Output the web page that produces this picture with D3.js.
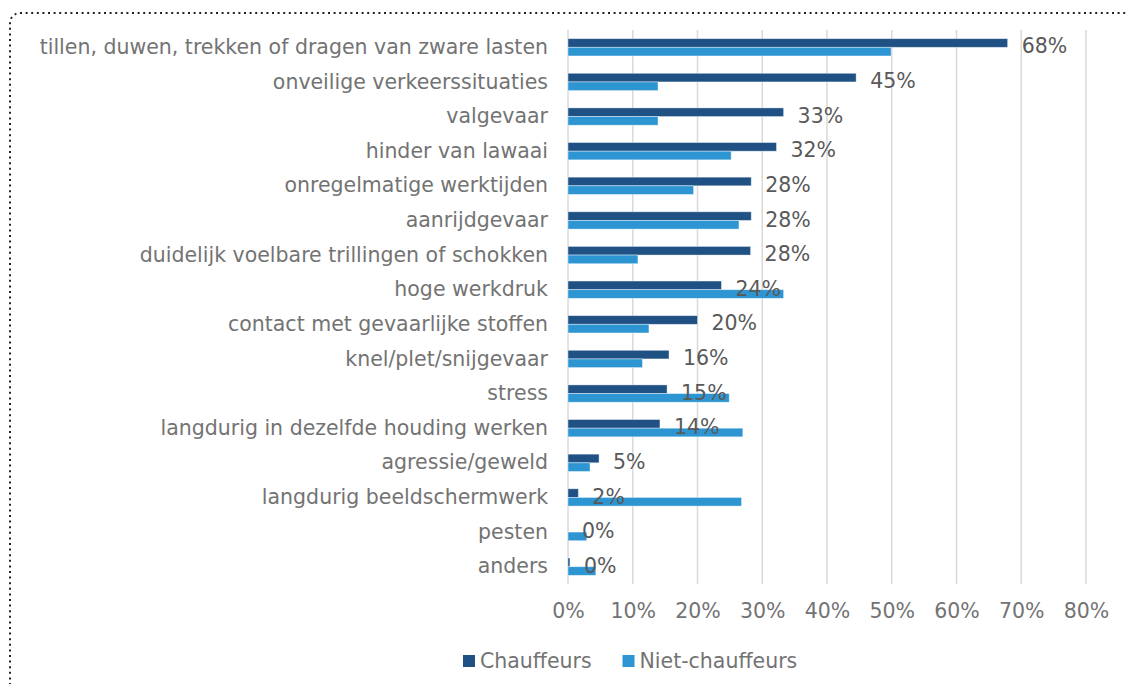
<!DOCTYPE html>
<html>
<head>
<meta charset="utf-8">
<script src="https://cdn.jsdelivr.net/npm/d3@7"></script>
<style>
  body { margin: 0; background: #fff; }
  text { font-family: "DejaVu Sans", sans-serif; }
</style>
</head>
<body>
<div id="chart"></div>
<script>
var categories = [
    "tillen, duwen, trekken of dragen van zware lasten",
    "onveilige verkeerssituaties",
    "valgevaar",
    "hinder van lawaai",
    "onregelmatige werktijden ",
    "aanrijdgevaar",
    "duidelijk voelbare trillingen of schokken",
    "hoge werkdruk",
    "contact met gevaarlijke stoffen",
    "knel/plet/snijgevaar",
    "stress",
    "langdurig in dezelfde houding werken",
    "agressie/geweld",
    "langdurig beeldschermwerk",
    "pesten",
    "anders"
];
var chauffeurs = [67.9, 44.5, 33.3, 32.2, 28.3, 28.3, 28.2, 23.7, 20.0, 15.6, 15.3, 14.2, 4.8, 1.6, 0, 0.3];
var nietChauffeurs = [49.9, 13.9, 13.9, 25.2, 19.4, 26.4, 10.8, 33.3, 12.5, 11.5, 24.9, 27.0, 3.4, 26.8, 2.9, 4.3];
var labels = ["68%", "45%", "33%", "32%", "28%", "28%", "28%", "24%", "20%", "16%", "15%", "14%", "5%", "2%", "0%", "0%"];
var ticks = [0, 10, 20, 30, 40, 50, 60, 70, 80];
var seriesNames = ["Chauffeurs", "Niet-chauffeurs"];
var colors = ["#1f5184", "#2e95d3"];

var svgWidth = 1128;
var svgHeight = 684;
var margin = { top: 30, right: 41, bottom: 100, left: 568 };
var width = svgWidth - margin.left - margin.right;
var height = svgHeight - margin.top - margin.bottom;
var fontSize = "20.5px";

var svg = d3.select("#chart")
    .append("svg")
    .attr("width", svgWidth)
    .attr("height", svgHeight);

// dotted frame
svg.append("rect")
    .attr("x", 10)
    .attr("y", 13)
    .attr("width", 1140)
    .attr("height", 700)
    .attr("rx", 10)
    .attr("fill", "none")
    .attr("stroke", "#222")
    .attr("stroke-width", 2)
    .attr("stroke-dasharray", "2 3.6");

var chartGroup = svg.append("g")
    .attr("transform", `translate(${margin.left}, ${margin.top})`);

var x = d3.scaleLinear().domain([0, 80]).range([0, 518]);
var y = d3.scaleBand().domain(categories).range([0, 554]).paddingInner(0.5).paddingOuter(0.25);

// gridlines
chartGroup.append("g")
    .selectAll("line")
    .data(ticks)
    .enter()
    .append("line")
    .attr("x1", d => x(d))
    .attr("x2", d => x(d))
    .attr("y1", 0)
    .attr("y2", 554)
    .attr("stroke", "#d9d9d9")
    .attr("stroke-width", 1.5);

// x axis labels
var xAxis = d3.axisBottom(x).tickValues(ticks).tickFormat(d => d + "%").tickSize(0).tickPadding(19);
var xg = chartGroup.append("g")
    .attr("transform", `translate(0, 554)`)
    .call(xAxis);
xg.select(".domain").remove();
xg.selectAll("text")
    .attr("fill", "#737373")
    .attr("font-size", fontSize)
    .attr("font-family", "'DejaVu Sans', sans-serif");

// category labels
var yAxis = d3.axisLeft(y).tickSize(0).tickPadding(20);
var yg = chartGroup.append("g").call(yAxis);
yg.select(".domain").remove();
yg.selectAll("text")
    .attr("fill", "#737373")
    .attr("font-size", fontSize)
    .attr("font-family", "'DejaVu Sans', sans-serif");

var barH = y.bandwidth() / 2;

chartGroup.append("g")
    .selectAll("rect")
    .data(categories)
    .enter()
    .append("rect")
    .attr("x", 0)
    .attr("y", d => y(d))
    .attr("width", (d, i) => x(chauffeurs[i]))
    .attr("height", barH)
    .attr("fill", colors[0])
    .attr("stroke", "#fff")
    .attr("stroke-opacity", 0.5)
    .attr("stroke-width", 0.8);

chartGroup.append("g")
    .selectAll("rect")
    .data(categories)
    .enter()
    .append("rect")
    .attr("x", 0)
    .attr("y", d => y(d) + barH)
    .attr("width", (d, i) => x(nietChauffeurs[i]))
    .attr("height", barH)
    .attr("fill", colors[1])
    .attr("stroke", "#fff")
    .attr("stroke-opacity", 0.5)
    .attr("stroke-width", 0.8);

// data labels
chartGroup.append("g")
    .selectAll("text")
    .data(categories)
    .enter()
    .append("text")
    .text((d, i) => labels[i])
    .attr("x", (d, i) => x(chauffeurs[i]) + 14)
    .attr("y", d => y(d) + barH - 1)
    .attr("dy", "0.35em")
    .attr("fill", "#595959")
    .attr("font-size", fontSize);

// legend
var legend = svg.append("g")
    .attr("transform", "translate(463, 655)");
var items = legend.selectAll("g")
    .data(seriesNames)
    .enter()
    .append("g")
    .attr("transform", (d, i) => `translate(${i * 159.5}, 0)`);
items.append("rect")
    .attr("width", 12)
    .attr("height", 12)
    .attr("fill", (d, i) => colors[i]);
items.append("text")
    .attr("x", 17)
    .attr("y", 6)
    .attr("dy", "0.35em")
    .attr("fill", "#737373")
    .attr("font-size", fontSize)
    .text(d => d);
</script>
</body>
</html>
